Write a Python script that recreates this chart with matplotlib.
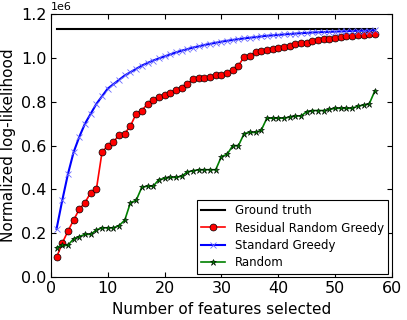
import matplotlib
matplotlib.use("Agg")
import matplotlib.pyplot as plt
import numpy as np

# number of features selected
n_feat = list(range(1, 58))

ground_truth = 1.133e6

residual_random_greedy = [
    0.09, 0.155, 0.21, 0.26, 0.31, 0.34, 0.385, 0.40, 0.57, 0.60,
    0.615, 0.65, 0.655, 0.69, 0.745, 0.76, 0.79, 0.81, 0.82, 0.83,
    0.84, 0.855, 0.865, 0.88, 0.905, 0.91, 0.91, 0.915, 0.92, 0.92,
    0.93, 0.945, 0.965, 1.005, 1.01, 1.025, 1.03, 1.035, 1.04, 1.045,
    1.05, 1.055, 1.065, 1.07, 1.07, 1.075, 1.08, 1.085, 1.085, 1.09,
    1.095, 1.10, 1.10, 1.105, 1.105, 1.11, 1.11]

standard_greedy = [
    0.22, 0.35, 0.47, 0.57, 0.64, 0.70, 0.745, 0.79, 0.825, 0.86,
    0.88, 0.90, 0.92, 0.935, 0.95, 0.965, 0.977, 0.988, 0.998, 1.007,
    1.016, 1.025, 1.033, 1.04, 1.047, 1.053, 1.059, 1.064, 1.069, 1.074,
    1.078, 1.082, 1.086, 1.089, 1.092, 1.095, 1.098, 1.101, 1.103, 1.105,
    1.107, 1.109, 1.111, 1.113, 1.114, 1.116, 1.117, 1.118, 1.119, 1.120,
    1.121, 1.122, 1.123, 1.124, 1.124, 1.125, 1.126]

random_sel = [
    0.135, 0.145, 0.145, 0.175, 0.185, 0.195, 0.195, 0.215, 0.225, 0.225,
    0.225, 0.235, 0.26, 0.34, 0.35, 0.41, 0.415, 0.415, 0.445, 0.45,
    0.455, 0.455, 0.46, 0.48, 0.485, 0.49, 0.49, 0.49, 0.49, 0.55,
    0.56, 0.60, 0.60, 0.655, 0.66, 0.66, 0.67, 0.725, 0.725, 0.725,
    0.725, 0.73, 0.735, 0.735, 0.755, 0.76, 0.76, 0.76, 0.765, 0.77,
    0.77, 0.77, 0.77, 0.78, 0.785, 0.79, 0.85]

rrg = np.array(residual_random_greedy) * 1e6
sg = np.array(standard_greedy) * 1e6
rnd = np.array(random_sel) * 1e6

fig = plt.figure(figsize=(4.07, 3.2), dpi=100)
ax = fig.add_axes([0.125, 0.134, 0.838, 0.822])

ax.plot([n_feat[0], n_feat[-1]], [ground_truth, ground_truth], 'k-', lw=1.5, label='Ground truth')
ax.plot(n_feat, rrg, 'r-', marker='o', ms=5, mec='k', mew=0.5, lw=1.2, label='Residual Random Greedy')
ax.plot(n_feat, sg, 'b-', marker='x', ms=4, mew=0.6, mec='#6a6aff', lw=1.5, label='Standard Greedy')
ax.plot(n_feat, rnd, 'g-', marker='*', ms=5, mec='k', mew=0.4, lw=1.2, label='Random')

ax.set_xlim(0, 60)
ax.set_ylim(0, 1.2e6)
ax.set_xticks(range(0, 61, 10))
ax.tick_params(direction='in', top=True, right=True, labelsize=11.5, pad=3)
ax.ticklabel_format(axis='y', style='sci', scilimits=(0, 0))
ax.yaxis.get_offset_text().set_fontsize(8)
ax.set_xlabel('Number of features selected', fontsize=11)
ax.set_ylabel('Normalized log-likelihood', fontsize=11)

leg = ax.legend(loc='lower right', fontsize=8.5, fancybox=False, framealpha=1,
                edgecolor='k', borderaxespad=0.3, handlelength=2.0,
                labelspacing=0.35)
leg.get_frame().set_linewidth(0.8)

fig.savefig('out.png', dpi=100)
